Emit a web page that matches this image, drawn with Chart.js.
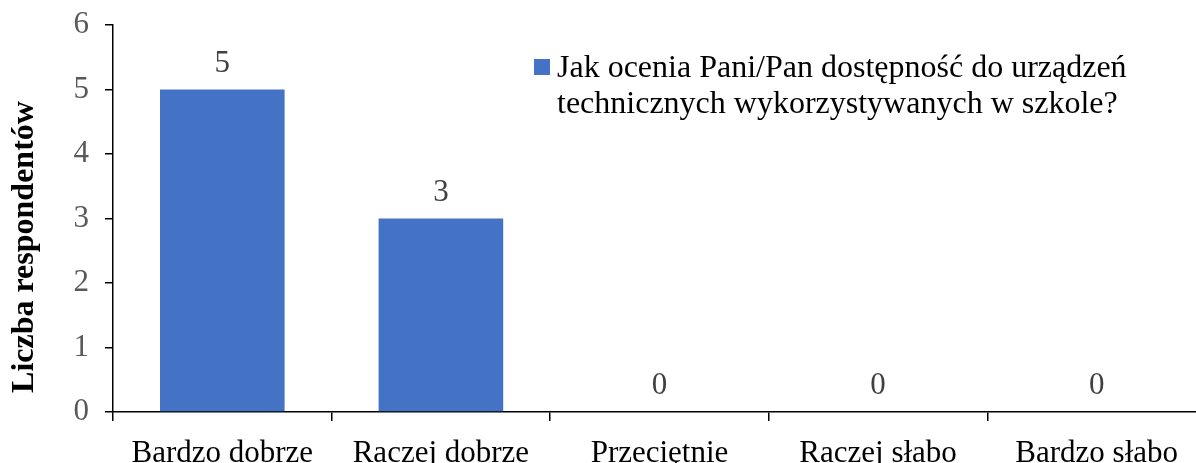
<!DOCTYPE html>
<html>
<head>
<meta charset="utf-8">
<script src="https://cdn.jsdelivr.net/npm/chart.js@4.4.1/dist/chart.umd.min.js"></script>
<style>
html,body{margin:0;padding:0;overflow:hidden;background:#fff;width:1196px;height:463px;}
#wrap{position:absolute;left:0;top:0;width:1220px;height:463px;}
canvas{display:block;}
</style>
</head>
<body>
<div id="wrap"><canvas id="c" width="1220" height="463"></canvas></div>
<script>
const categories = ["Bardzo dobrze", "Raczej dobrze", "Przeciętnie", "Raczej słabo", "Bardzo słabo"];
const values = [5, 3, 0, 0, 0];
const yTicks = [0, 1, 2, 3, 4, 5, 6];
const seriesLabel = "Jak ocenia Pani/Pan dostępność do urządzeń technicznych wykorzystywanych w szkole?";
const legendLines = ["Jak ocenia Pani/Pan dostępność do urządzeń", "technicznych wykorzystywanych w szkole?"];
const yTitle = "Liczba respondentów";

const FONT = "'Liberation Serif', 'Times New Roman', serif";
const FS = 31;
const LFS = 32;

const valueLabels = {
  id: 'valueLabels',
  afterDatasetsDraw(chart) {
    const ctx = chart.ctx;
    const meta = chart.getDatasetMeta(0);
    ctx.save();
    ctx.font = FS + "px " + FONT;
    ctx.fillStyle = "#404040";
    ctx.textAlign = "center";
    ctx.textBaseline = "alphabetic";
    meta.data.forEach((bar, i) => {
      ctx.fillText(String(values[i]), bar.x, bar.y - 18);
    });
    ctx.restore();
  }
};

const customLegend = {
  id: 'customLegend',
  afterDraw(chart) {
    const ctx = chart.ctx;
    ctx.save();
    ctx.fillStyle = "#4472C4";
    ctx.fillRect(534, 59, 16, 16);
    ctx.font = LFS + "px " + FONT;
    ctx.fillStyle = "#000";
    ctx.textAlign = "left";
    ctx.textBaseline = "alphabetic";
    legendLines.forEach((l, i) => ctx.fillText(l, 557, 77 + i * 36));
    ctx.restore();
  }
};

const yTitlePlugin = {
  id: 'yTitlePlugin',
  afterDraw(chart) {
    const ctx = chart.ctx;
    ctx.save();
    ctx.translate(25, 247);
    ctx.rotate(-Math.PI / 2);
    ctx.font = "bold " + LFS + "px " + FONT;
    ctx.fillStyle = "#000";
    ctx.textAlign = "center";
    ctx.textBaseline = "middle";
    ctx.fillText(yTitle, 0, 0);
    ctx.restore();
  }
};

new Chart(document.getElementById('c'), {
  type: 'bar',
  data: {
    labels: categories,
    datasets: [{
      label: seriesLabel,
      data: values,
      backgroundColor: "#4472C4",
      borderWidth: 0,
      categoryPercentage: 1.0,
      barPercentage: 0.57
    }]
  },
  options: {
    responsive: false,
    animation: false,
    devicePixelRatio: 1,
    layout: { padding: { top: 25, right: 14, left: 0, bottom: 0 } },
    plugins: {
      legend: { display: false },
      tooltip: { enabled: false },
      title: { display: false }
    },
    scales: {
      x: {
        grid: { display: true, drawOnChartArea: false, drawTicks: true, tickLength: 9, color: "#000", lineWidth: 1.5, offset: true },
        border: { display: true, color: "#000", width: 1.5 },
        ticks: { color: "#000", font: { family: FONT, size: FS }, padding: 14, maxRotation: 0, autoSkip: false },
        afterFit(s) { s.height = 51; s.paddingLeft = 0; s.paddingRight = 0; }
      },
      y: {
        min: 0, max: 6,
        afterBuildTicks(s) { s.ticks = yTicks.map(v => ({ value: v })); },
        grid: { display: true, drawOnChartArea: false, drawTicks: true, tickLength: 8, color: "#000", lineWidth: 1.5 },
        border: { display: true, color: "#000", width: 1.5 },
        ticks: { color: "#595959", font: { family: FONT, size: FS }, padding: 16 },
        afterFit(s) { s.width = 113; s.paddingTop = 0; s.paddingBottom = 0; }
      }
    }
  },
  plugins: [valueLabels, customLegend, yTitlePlugin]
});
</script>
</body>
</html>
